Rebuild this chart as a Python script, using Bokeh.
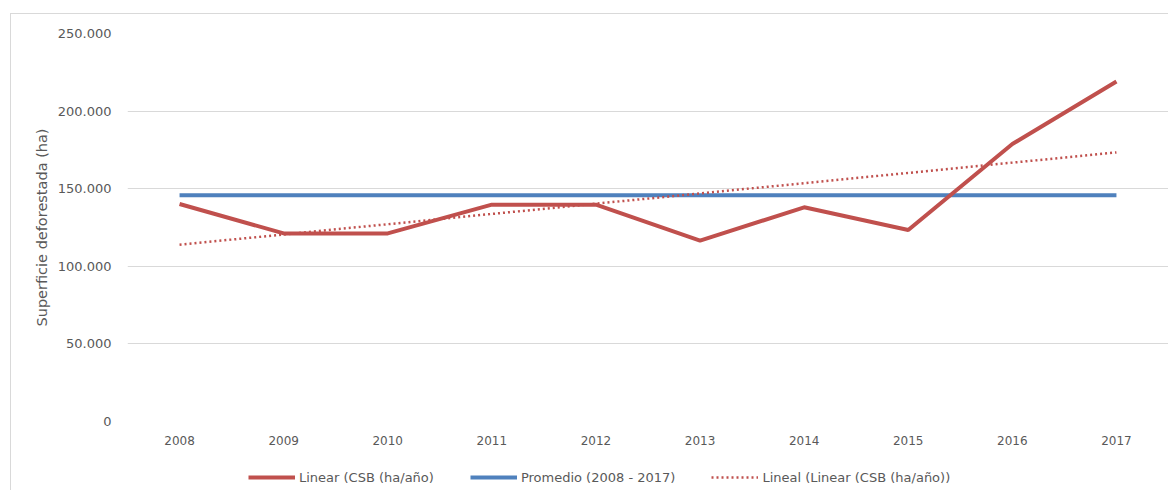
from bokeh.plotting import figure
from bokeh.layouts import column
from bokeh.models import (FactorRange, Range1d, FixedTicker, CustomJSTickFormatter,
                          Legend, LegendItem)
from bokeh.embed import file_html
from bokeh.resources import INLINE

years = ["2008", "2009", "2010", "2011", "2012", "2013", "2014", "2015", "2016", "2017"]
csb = [140150, 121200, 121200, 139700, 139700, 116500, 138000, 123400, 178800, 219100]
promedio = [145700] * len(years)
trend_years = ["2008", "2017"]
trend_vals = [113900, 173400]
y_ticks = [0, 50000, 100000, 150000, 200000, 250000]
series_labels = ["Linear (CSB (ha/año)", "Promedio (2008 - 2017)", "Lineal (Linear (CSB (ha/año))"]

RED = "#C0504D"
BLUE = "#4F81BD"
TXT = "#595959"
FONT = "DejaVu Sans"
W = 1157

p = figure(width=W, height=447, x_range=FactorRange(*years), y_range=Range1d(0, 250000),
           output_backend="svg", toolbar_location=None,
           min_border_left=116, min_border_right=0, min_border_top=19, min_border_bottom=40)
p.outline_line_color = None
p.xgrid.grid_line_color = None
p.ygrid.grid_line_color = "#D9D9D9"
p.ygrid.grid_line_width = 1
p.yaxis.ticker = FixedTicker(ticks=y_ticks)
p.yaxis.formatter = CustomJSTickFormatter(code="""
    return Math.round(tick).toString().replace(/\\B(?=(\\d{3})+(?!\\d))/g, ".");
""")
for ax in (p.xaxis[0], p.yaxis[0]):
    ax.axis_line_color = None
    ax.major_tick_line_color = None
    ax.minor_tick_line_color = None
    ax.major_label_text_font = FONT
    ax.major_label_text_color = TXT
p.xaxis.major_label_text_font_size = "12px"
p.yaxis.major_label_text_font_size = "13px"
p.xaxis.major_label_standoff = 8
p.yaxis.major_label_standoff = 10
p.yaxis.axis_label = "Superficie deforestada (ha)"
p.yaxis.axis_label_text_font = FONT
p.yaxis.axis_label_text_font_size = "14.5px"
p.yaxis.axis_label_text_font_style = "normal"
p.yaxis.axis_label_text_color = TXT
p.yaxis.axis_label_standoff = 5

p.line(years, promedio, line_color=BLUE, line_width=4)
p.line(trend_years, trend_vals, line_color=RED, line_width=2.5, line_dash="2 3")
p.line(years, csb, line_color=RED, line_width=4)

# legend strip below the chart (legend swatches only, no data drawn)
nan = float("nan")
lg = figure(width=W, height=29, x_range=Range1d(0, 1), y_range=Range1d(0, 1),
            output_backend="svg", toolbar_location=None,
            x_axis_type=None, y_axis_type=None,
            min_border_left=0, min_border_right=0, min_border_top=0, min_border_bottom=0)
lg.outline_line_color = None
lg.grid.visible = False
s1 = lg.line([nan], [nan], line_color=RED, line_width=4)
s2 = lg.line([nan], [nan], line_color=BLUE, line_width=4)
s3 = lg.line([nan], [nan], line_color=RED, line_width=2.5, line_dash="2 3")

legend = Legend(items=[
    LegendItem(label=series_labels[0], renderers=[s1]),
    LegendItem(label=series_labels[1], renderers=[s2]),
    LegendItem(label=series_labels[2], renderers=[s3]),
], orientation="horizontal", location=(121, 5))
legend.border_line_color = None
legend.background_fill_alpha = 0
legend.padding = 0
legend.margin = 0
legend.spacing = 36
legend.glyph_width = 47
legend.glyph_height = 16
legend.label_standoff = 4
legend.label_text_font = FONT
legend.label_text_font_size = "13px"
legend.label_text_color = TXT
lg.add_layout(legend, "center")

layout = column(p, lg, spacing=0, margin=(13, 0, 0, 10),
                styles={"border-left": "1px solid #d9d9d9", "border-top": "1px solid #d9d9d9"})

open("out.html", "w").write(file_html(layout, INLINE))
